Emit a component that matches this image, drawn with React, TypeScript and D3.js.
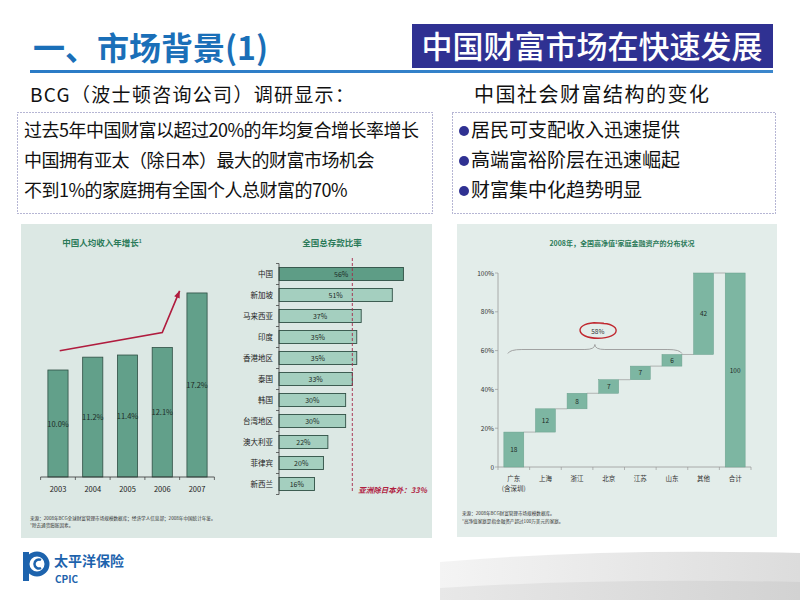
import React from 'react';
import * as d3 from 'd3';

const FONT = '"Noto Sans CJK SC", "Noto Sans", sans-serif';

// ---------- data ----------
const introLines = [
  '过去5年中国财富以超过20%的年均复合增长率增长',
  '中国拥有亚太（除日本）最大的财富市场机会',
  '不到1%的家庭拥有全国个人总财富的70%',
];
const bulletLines = ['居民可支配收入迅速提供', '高端富裕阶层在迅速崛起', '财富集中化趋势明显'];

const incomeYears = ['2003', '2004', '2005', '2006', '2007'];
const incomeGrowth = [10.0, 11.2, 11.4, 12.1, 17.2];
// arrow annotation: [category index, value]
const incomeArrow: [number, number][] = [[0.05, 11.8], [3.0, 13.5], [3.5, 17.4]];

const savingsCountries = ['中国', '新加坡', '马来西亚', '印度', '香港地区', '泰国', '韩国', '台湾地区', '澳大利亚', '菲律宾', '新西兰'];
const savingsRates = [56, 51, 37, 35, 35, 33, 30, 30, 22, 20, 16];
const asiaExJapan = 33;

const provinces = ['广东', '上海', '浙江', '北京', '江苏', '山东', '其他', '合计'];
const provinceSub = ['(含深圳)', '', '', '', '', '', '', ''];
const provinceShares = [18, 12, 8, 7, 7, 6, 42, 100];
const shareTicks = [0, 20, 40, 60, 80, 100];
const braceLabel = '58%';
const braceValue = 58;

// ---------- chart 1 ----------
function IncomeChart() {
  const x = d3.scaleBand<string>().domain(incomeYears).range([40.6, 214.4]).paddingInner(0.42).paddingOuter(0.21);
  const y = d3.scaleLinear().domain([0, 20]).range([477, 263]);
  const bw = x.bandwidth();
  const xi = (i: number) => (x(incomeYears[0]) as number) + bw / 2 + i * x.step();
  const arrowLine = d3.line<[number, number]>().x(d => xi(d[0])).y(d => y(d[1]));
  const pts = incomeArrow;
  const last = pts[pts.length - 1];
  const prev = pts[pts.length - 2];
  const ang = Math.atan2(y(last[1]) - y(prev[1]), xi(last[0]) - xi(prev[0]));
  const ax = xi(last[0]), ay = y(last[1]);
  const head = [
    [ax, ay],
    [ax - 7 * Math.cos(ang) + 3 * Math.sin(ang), ay - 7 * Math.sin(ang) - 3 * Math.cos(ang)],
    [ax - 7 * Math.cos(ang) - 3 * Math.sin(ang), ay - 7 * Math.sin(ang) + 3 * Math.cos(ang)],
  ];
  return (
    <g fontFamily={FONT}>
      <text x={102} y={246} textAnchor="middle" fontSize={8.5} fontWeight="bold" fill="#2a7a58">
        中国人均收入年增长<tspan fontSize={5} dy={-3}>1</tspan>
      </text>
      {incomeYears.map((yr, i) => (
        <g key={yr}>
          <rect x={x(yr)} y={y(incomeGrowth[i])} width={bw} height={y(0) - y(incomeGrowth[i])}
            fill="#62a08a" stroke="#2f4f44" strokeWidth={0.8} />
          <text x={(x(yr) as number) + bw / 2} y={(y(0) + y(incomeGrowth[i])) / 2 + 3} textAnchor="middle"
            fontSize={7.5} fill="#1d2b26">{incomeGrowth[i].toFixed(1)}%</text>
          <text x={(x(yr) as number) + bw / 2} y={492} textAnchor="middle" fontSize={7.5} fill="#222">{yr}</text>
        </g>
      ))}
      <line x1={40.6} x2={214.4} y1={y(0)} y2={y(0)} stroke="#333" strokeWidth={0.8} />
      {d3.range(incomeYears.length + 1).map(i => {
        const xx = 40.6 + i * x.step();
        return <line key={i} x1={xx} x2={xx} y1={y(0)} y2={y(0) + 3} stroke="#333" strokeWidth={0.7} />;
      })}
      <path d={arrowLine(pts) as string} fill="none" stroke="#b01c3e" strokeWidth={1.6} />
      <polygon points={head.map(p => p.join(',')).join(' ')} fill="#b01c3e" />
      <text x={30} y={520} fontSize={4.6} fill="#333">来源：2008年BCG全球财富管理市场规模数据库；经济学人信息部；2008年中国统计年鉴。</text>
      <text x={30} y={527} fontSize={4.6} fill="#333">¹除去通货膨胀因素。</text>
    </g>
  );
}

// ---------- chart 2 ----------
function SavingsChart() {
  const y = d3.scaleBand<string>().domain(savingsCountries).range([263.5, 494.5]).paddingInner(0.38).paddingOuter(0.19);
  const x = d3.scaleLinear().domain([0, 60]).range([279, 412.3]);
  const bh = y.bandwidth();
  return (
    <g fontFamily={FONT}>
      <text x={332} y={246} textAnchor="middle" fontSize={8.5} fontWeight="bold" fill="#2a7a58">全国总存款比率</text>
      {savingsCountries.map((c, i) => (
        <g key={c}>
          <rect x={x(0)} y={y(c)} width={x(savingsRates[i]) - x(0)} height={bh}
            fill={i === 0 ? '#5e9d86' : '#a4cfbf'} stroke="#2f4f44" strokeWidth={0.9} />
          <text x={(x(0) + x(savingsRates[i])) / 2} y={(y(c) as number) + bh / 2 + 2.8} textAnchor="middle"
            fontSize={7} fill="#1d2b26">{savingsRates[i]}%</text>
          <text x={273} y={(y(c) as number) + bh / 2 + 3} textAnchor="end" fontSize={7.5} fill="#222">{c}</text>
        </g>
      ))}
      <line x1={x(0)} x2={x(0)} y1={263.5} y2={494.5} stroke="#333" strokeWidth={0.8} />
      {d3.range(savingsCountries.length + 1).map(i => {
        const yy = 263.5 + i * y.step();
        return <line key={i} x1={x(0) - 3} x2={x(0)} y1={yy} y2={yy} stroke="#333" strokeWidth={0.7} />;
      })}
      <line x1={x(asiaExJapan)} x2={x(asiaExJapan)} y1={258} y2={492} stroke="#a3284a" strokeWidth={0.9} strokeDasharray="3,2" />
      <text x={x(asiaExJapan) + 6} y={493} fontSize={7.5} fontStyle="italic" fontWeight="bold" fill="#b0203f">
        亚洲除日本外：{asiaExJapan}%
      </text>
    </g>
  );
}

// ---------- chart 3 ----------
function WaterfallChart() {
  const x = d3.scaleBand<string>().domain(provinces).range([498, 751]).paddingInner(0.37).paddingOuter(0.185);
  const y = d3.scaleLinear().domain([0, 100]).range([467, 273]);
  const bw = x.bandwidth();
  let cum = 0;
  const segs = provinces.map((p, i) => {
    const v = provinceShares[i];
    if (i === provinces.length - 1) return { p, v, s: 0, e: v };
    const s = cum; cum += v;
    return { p, v, s, e: cum };
  });
  const bx1 = (x(provinces[0]) as number) + 4;
  const bx2 = (x(provinces[5]) as number) + bw;
  const by = y(braceValue + 0.5);
  const ym = by - 4;
  const yt = by - 9;
  const xm = (bx1 + bx2) / 2;
  const brace = `M${bx1},${by} Q${bx1 + 2},${ym} ${bx1 + 14},${ym} L${xm - 10},${ym} Q${xm},${ym} ${xm},${yt} Q${xm},${ym} ${xm + 10},${ym} L${bx2 - 14},${ym} Q${bx2 - 2},${ym} ${bx2},${by}`;
  const lx = xm + 3, ly = y(70);
  return (
    <g fontFamily={FONT}>
      <text x={622} y={246} textAnchor="middle" fontSize={7} fontWeight="bold" fill="#2a7a58">
        2008年，全国高净值<tspan fontSize={4.5} dy={-2.5}>1</tspan><tspan dy={2.5}>家庭金融资产的分布状况</tspan>
      </text>
      <line x1={498} x2={498} y1={y(100)} y2={y(0)} stroke="#9a9a9a" strokeWidth={0.8} />
      {shareTicks.map(t => (
        <g key={t}>
          <line x1={495} x2={498} y1={y(t)} y2={y(t)} stroke="#9a9a9a" strokeWidth={0.7} />
          <text x={494} y={y(t) + 2.5} textAnchor="end" fontSize={6.5} fill="#333">{t === 0 ? '0' : `${t}%`}</text>
        </g>
      ))}
      <line x1={498} x2={751} y1={y(0)} y2={y(0)} stroke="#9a9a9a" strokeWidth={0.8} />
      {d3.range(provinces.length + 1).map(i => {
        const xx = 498 + i * x.step();
        return <line key={i} x1={xx} x2={xx} y1={y(0)} y2={y(0) + 3} stroke="#9a9a9a" strokeWidth={0.7} />;
      })}
      {segs.map((d, i) => (
        <g key={d.p}>
          <rect x={x(d.p)} y={y(d.e)} width={bw} height={y(d.s) - y(d.e)} fill="#7db6a2" stroke="#6aa08d" strokeWidth={0.5} />
          <text x={(x(d.p) as number) + bw / 2} y={(y(d.s) + y(d.e)) / 2 + 2.5} textAnchor="middle" fontSize={6.5} fill="#1d2b26">{d.v}</text>
          {i < segs.length - 1 && (
            <line x1={(x(d.p) as number) + bw} x2={x(segs[i + 1].p)} y1={y(d.e)} y2={y(d.e)} stroke="#9a9a9a" strokeWidth={0.7} />
          )}
          <text x={(x(d.p) as number) + bw / 2} y={481} textAnchor="middle" fontSize={6.5} fill="#333">{d.p}</text>
          {provinceSub[i] && (
            <text x={(x(d.p) as number) + bw / 2} y={491} textAnchor="middle" fontSize={6.5} fill="#333">{provinceSub[i]}</text>
          )}
        </g>
      ))}
      <path d={brace} fill="none" stroke="#9a9a9a" strokeWidth={0.9} />
      <text x={lx} y={ly + 2.5} textAnchor="middle" fontSize={6.5} fill="#333">{braceLabel}</text>
      <path d={`M${lx + 2},${ly - 8} C${lx + 24},${ly - 8} ${lx + 24},${ly + 7} ${lx},${ly + 7} C${lx - 22},${ly + 7} ${lx - 24},${ly - 7} ${lx - 4},${ly - 8.5} L${lx + 6},${ly - 8}`}
        fill="none" stroke="#c0282f" strokeWidth={1.4} />
      <text x={462} y={515} fontSize={4.6} fill="#333">来源：2008年BCG财富管理市场规模数据库。</text>
      <text x={462} y={523} fontSize={4.6} fill="#333">¹高净值家庭是指金融资产超过100万美元的家庭。</text>
    </g>
  );
}

function Logo() {
  return (
    <g>
      <rect x={23} y={552} width={6} height={29} fill="#1d63ad" />
      <circle cx={37} cy={564} r={10} fill="none" stroke="#1d63ad" strokeWidth={5} />
      <path d="M41,560 A4.5,4.5 0 1 0 41,568" fill="none" stroke="#1d63ad" strokeWidth={2.5} />
      <text x={54} y={566} fontFamily={FONT} fontSize={14} fontWeight="bold" fill="#1d63ad">太平洋保险</text>
      <text x={55} y={583} fontFamily={FONT} fontSize={10} fontWeight="bold" fill="#1d63ad">CPIC</text>
    </g>
  );
}

export default function App() {
  return (
    <svg width={800} height={600} style={{ position: 'absolute', left: 0, top: 0, background: '#fff' }}>
      <defs>
        <linearGradient id="swoosh1" x1="0" x2="1" y1="0" y2="0">
          <stop offset="0" stopColor="#f4f4f4" />
          <stop offset="1" stopColor="#dcdcdc" />
        </linearGradient>
        <linearGradient id="swoosh2" x1="0" x2="1" y1="0" y2="0">
          <stop offset="0" stopColor="#e8e8e8" />
          <stop offset="1" stopColor="#d2d2d2" />
        </linearGradient>
        <linearGradient id="titleLine" x1="0" x2="1" y1="0" y2="0">
          <stop offset="0" stopColor="#2a7bc6" />
          <stop offset="1" stopColor="#3b86cc" />
        </linearGradient>
      </defs>
      <rect x={0} y={0} width={800} height={600} fill="#fff" />

      {/* bottom swoosh */}
      <path d="M440,562 Q600,548 800,553 L800,600 L440,600 Z" fill="url(#swoosh1)" />
      <path d="M440,588 Q600,578 800,582 L800,600 L440,600 Z" fill="url(#swoosh2)" />

      {/* header */}
      <text x={33} y={60} fontFamily={FONT} fontSize={32} fontWeight="bold" fill="#1a6fb8">一、市场背景(1)</text>
      <rect x={412} y={24} width={361} height={44} fill="#2f3192" />
      <text x={592} y={58} textAnchor="middle" fontFamily={FONT} fontSize={31} fontWeight="500" fill="#fff">中国财富市场在快速发展</text>
      <rect x={30} y={70} width={743} height={3} fill="url(#titleLine)" />

      <text x={30} y={102} fontFamily={FONT} fontSize={19} fill="#111" letterSpacing={1.3}>BCG（波士顿咨询公司）调研显示：</text>
      <text x={474} y={102} fontFamily={FONT} fontSize={20} fill="#111" letterSpacing={1.5}>中国社会财富结构的变化</text>

      <rect x={17.5} y={112.5} width={415} height={101} fill="none" stroke="#6d6da8" strokeWidth={1} strokeDasharray="1,2" />
      <rect x={452.5} y={112.5} width={323} height={101} fill="none" stroke="#6d6da8" strokeWidth={1} strokeDasharray="1,2" />
      {introLines.map((t, i) => (
        <text key={t} x={24} y={137 + i * 30} fontFamily={FONT} fontSize={18} letterSpacing={-0.5} fill="#111">{t}</text>
      ))}
      {bulletLines.map((t, i) => (
        <g key={t}>
          <circle cx={464} cy={131 + i * 30} r={5} fill="#2f3192" />
          <text x={471} y={137 + i * 30} fontFamily={FONT} fontSize={19} fill="#111">{t}</text>
        </g>
      ))}

      {/* panels */}
      <rect x={21} y={224} width={411} height={314} fill="#dce8e4" />
      <rect x={457} y={224} width={320} height={313} fill="#e3edea" />

      <IncomeChart />
      <SavingsChart />
      <WaterfallChart />
      <Logo />
    </svg>
  );
}
